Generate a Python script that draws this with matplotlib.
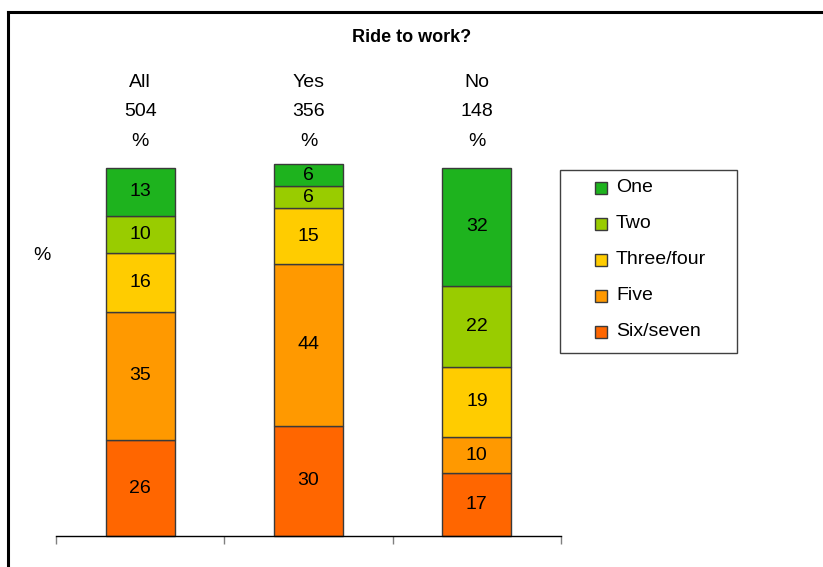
import numpy as np
import matplotlib.pyplot as plt
from matplotlib.patches import Rectangle
from matplotlib.lines import Line2D
import matplotlib.transforms as mtransforms

plt.rcParams['font.family'] = ['Liberation Sans', 'DejaVu Sans']

# groups across the bottom and their base sizes
groups = ['All', 'Yes', 'No']
bases = ['504', '356', '148']

# days per week, stacked from the bottom up
categories = ['Six/seven', 'Five', 'Three/four', 'Two', 'One']
six_seven = [26, 30, 17]
five = [35, 44, 10]
three_four = [16, 15, 19]
two = [10, 6, 22]
one = [13, 6, 32]
series = [six_seven, five, three_four, two, one]
colors = ['#ff6600', '#ff9900', '#ffcc00', '#99cc00', '#1eb31e']

W, H = 823, 567
fig = plt.figure(figsize=(W / 100, H / 100), dpi=100)


def fx(px):
    return px / W


def fy(py):
    return 1 - py / H


ax = fig.add_axes([fx(56), fy(536), (561 - 56) / W, (536 - 168) / H])

x = np.arange(len(groups))
bottom = np.zeros(len(groups))
for name, vals, col in zip(categories, series, colors):
    vals = np.array(vals, dtype=float)
    ax.bar(x, vals, width=0.41, bottom=bottom, color=col,
           edgecolor='#3a3a3a', linewidth=1, clip_on=False)
    for xi, v, b in zip(x, vals, bottom):
        ax.text(xi, b + v / 2, f'{v:.0f}', ha='center', va='center', fontsize=14)
    bottom += vals

ax.set_xlim(-0.5, 2.5)
ax.set_ylim(0, 100)
for side in ['left', 'right', 'top']:
    ax.spines[side].set_visible(False)
ax.spines['bottom'].set_color('black')
ax.spines['bottom'].set_linewidth(1)
ax.set_yticks([])
ax.set_xticks([-0.5, 0.5, 1.5, 2.5])
ax.set_xticklabels([])
ax.tick_params(axis='x', direction='out', length=6, color='#808080', width=1)

# group headers above each bar
trans = mtransforms.blended_transform_factory(ax.transData, ax.transAxes)
for xi, g, n in zip(x, groups, bases):
    for py, s in zip([82.5, 112, 141], [g, n, '%']):
        ax.text(xi, (536 - py) / 368, s, transform=trans, ha='center',
                va='center', fontsize=14)

fig.text(fx(42), fy(256), '%', ha='center', va='center', fontsize=14)
fig.text(fx(412), fy(37), 'Ride to work?', ha='center', va='center',
         fontsize=13, fontweight='bold')

# outer frame (left and top edges)
fig.add_artist(Line2D([fx(8), fx(8)], [fy(12), 0], color='black', lw=2.2))
fig.add_artist(Line2D([fx(8), 1], [fy(12), fy(12)], color='black', lw=2.2))

# legend box
fig.add_artist(Rectangle((fx(560), fy(353)), (737 - 560) / W, (353 - 170) / H,
                         transform=fig.transFigure, fill=False,
                         edgecolor='#404040', lw=1))
for i, (name, col) in enumerate(zip(categories[::-1], colors[::-1])):
    yc = 188 + 36 * i
    fig.add_artist(Rectangle((fx(595), fy(yc + 6)), 12 / W, 12 / H,
                             transform=fig.transFigure, facecolor=col,
                             edgecolor='#3a3a3a', lw=1))
    fig.text(fx(616), fy(yc), name, ha='left', va='center', fontsize=14)

fig.savefig('out.png', dpi=100)
